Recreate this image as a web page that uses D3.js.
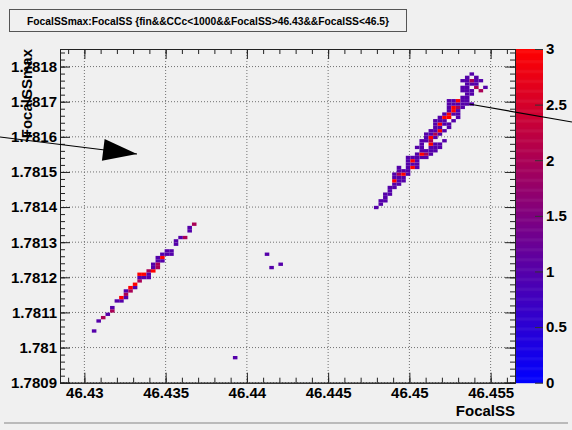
<!DOCTYPE html>
<html>
<head>
<meta charset="utf-8">
<script src="https://cdn.jsdelivr.net/npm/d3@7/dist/d3.min.js"></script>
<style>
  html, body { margin: 0; padding: 0; background: #f0f0f0; }
  svg { display: block; }
  text { font-family: "Liberation Sans", Arial, Helvetica, sans-serif; font-weight: bold; fill: #000; }
</style>
</head>
<body>
<script>
// Histogram binning of FocalSSmax vs FocalSS
const xLimits = [46.4285, 46.4565];
const yLimits = [1.7809, 1.78185];
const nBinsX = 100;
const nBinsY = 100;

// Axis tick labels
const xTicks = [46.43, 46.435, 46.44, 46.445, 46.45, 46.455];
const yTicks = [1.7809, 1.781, 1.7811, 1.7812, 1.7813, 1.7814, 1.7815, 1.7816, 1.7817, 1.7818];
const zTicks = [0, 0.5, 1, 1.5, 2, 2.5, 3];
const zRange = [0, 3];

// Filled bins: [x bin, y bin, entries]
const cellsLower = [
  [7,15,1], [8,18,1], [9,19,2], [10,20,1], [11,21,2], [11,22,1],
  [12,24,1], [13,24,1], [13,25,3], [14,25,1], [14,26,2], [14,27,1],
  [15,27,2], [15,28,3], [16,28,1], [16,29,3], [17,30,2], [17,31,1],
  [18,31,1], [18,32,3], [17,32,3], [19,31,1], [19,33,2], [19,32,1],
  [20,33,3], [20,34,1], [20,35,1], [21,34,2], [21,36,1], [21,35,2],
  [22,37,3], [22,36,1], [21,37,1], [22,38,1], [23,38,1], [23,39,1],
  [24,39,1], [24,38,1], [25,41,1], [25,42,1], [26,43,1], [27,43,2],
  [28,45,1], [28,46,1], [29,47,2]
];
const cellsIsolated = [
  [45,38,1], [46,34,1], [48,35,1], [38,7,1]
];
const cellsUpper = [
  [69,52,1], [70,53,1], [70,54,1], [71,54,1], [71,55,1], [71,56,1], [72,56,1],
  [72,57,1], [72,58,1], [73,58,1], [73,59,1], [74,59,1],
  [73,60,3], [74,60,1], [75,60,1], [73,61,1], [74,61,1], [75,61,1],
  [73,62,1], [74,62,2], [75,62,3], [76,62,1], [74,63,1], [75,63,1], [76,63,1],
  [74,64,1], [76,64,1], [77,64,3], [78,64,1], [76,65,1], [77,65,1], [78,65,1],
  [76,66,1], [77,66,3], [78,66,1],
  [76,67,1], [77,67,1], [78,67,1], [79,67,1], [80,67,1],
  [78,68,1], [79,68,3], [80,68,2], [81,68,1],
  [79,69,1], [80,69,1], [81,69,1], [82,69,1],
  [78,70,1], [79,70,1], [81,70,1], [82,70,1], [83,70,1],
  [79,71,1], [81,71,3], [82,71,1], [83,71,1],
  [79,72,1], [80,72,1], [81,72,2], [84,72,1],
  [80,73,1], [81,73,3], [82,73,1],
  [80,74,1], [81,74,1], [82,74,2], [83,74,1],
  [81,75,1], [82,75,1], [83,75,3], [84,75,1],
  [82,76,1], [83,76,1], [85,76,1],
  [82,77,1], [83,77,3], [84,77,1], [85,77,1],
  [82,78,1], [83,78,1], [84,78,1], [86,78,1],
  [83,79,1], [84,79,3], [85,79,3], [87,79,1],
  [84,80,1], [85,80,3], [86,80,1], [87,80,1],
  [85,81,1], [86,81,3], [87,81,1],
  [85,82,1], [86,82,3], [87,82,2], [88,82,1],
  [85,83,1], [86,83,1], [87,83,1], [88,83,1], [89,83,1], [90,83,1],
  [85,84,1], [86,84,1], [87,84,3], [88,84,1], [89,84,1],
  [88,85,1], [89,85,1], [89,86,1], [90,86,1],
  [88,87,1], [89,87,1], [90,87,1], [92,87,2],
  [88,88,1], [89,88,1], [91,88,2], [93,88,1],
  [89,89,1], [90,89,1], [91,89,1],
  [88,90,1], [89,90,1], [90,90,2], [91,90,1], [92,90,1],
  [89,91,1], [91,91,1], [90,92,1]
];

const W = 572, H = 430;
const frame = { left: 60, right: 515, top: 49, bottom: 382.7 };
const bar = { left: 516, right: 543 };

const svg = d3.select("body").append("svg").attr("width", W).attr("height", H);

// canvas background and lower border
svg.append("rect").attr("width", W).attr("height", H).attr("fill", "#f0f0f0");
svg.append("line").attr("x1", 4).attr("x2", 568).attr("y1", 423).attr("y2", 423)
  .attr("stroke", "#a8a8a8").attr("stroke-width", 1.5);

const x = d3.scaleLinear().domain(xLimits).range([frame.left, frame.right]);
const y = d3.scaleLinear().domain(yLimits).range([frame.bottom, frame.top]);
const z = d3.scaleLinear().domain(zRange).range(["#0000ff", "#ff0000"]).interpolate(d3.interpolateRgb);

const xStep = (xLimits[1] - xLimits[0]) / nBinsX;
const yStep = (yLimits[1] - yLimits[0]) / nBinsY;

// grid
const grid = svg.append("g").attr("stroke", "#707070").attr("stroke-width", 1).attr("stroke-dasharray", "1,2");
grid.selectAll("line.gx").data(xTicks).join("line").attr("class", "gx")
  .attr("x1", d => x(d)).attr("x2", d => x(d)).attr("y1", frame.top).attr("y2", frame.bottom);
grid.selectAll("line.gy").data(yTicks).join("line").attr("class", "gy")
  .attr("x1", frame.left).attr("x2", frame.right).attr("y1", d => y(d)).attr("y2", d => y(d));

// bins
const cells = cellsLower.concat(cellsIsolated, cellsUpper);
svg.append("g").selectAll("rect").data(cells).join("rect")
  .attr("x", d => x(xLimits[0] + d[0] * xStep))
  .attr("y", d => y(yLimits[0] + (d[1] + 1) * yStep))
  .attr("width", d => x(xLimits[0] + (d[0] + 1) * xStep) - x(xLimits[0] + d[0] * xStep))
  .attr("height", d => y(yLimits[0] + d[1] * yStep) - y(yLimits[0] + (d[1] + 1) * yStep))
  .attr("fill", d => z(d[2]));

// axes: major and minor ticks on all four sides
const xMinor = d3.range(46.429, 46.4565, 0.001);
const yMinor = d3.range(1.78092, 1.78185, 0.00002);

function styleAxis(g) {
  g.select(".domain").attr("stroke", "#222");
  g.selectAll(".tick line").attr("stroke", "#222");
  g.selectAll("text").attr("font-size", 15).attr("font-family", null).attr("fill", "#000");
}

svg.append("g").attr("transform", `translate(0,${frame.bottom})`)
  .call(d3.axisBottom(x).tickValues(xMinor).tickSize(-5).tickFormat(""))
  .call(styleAxis);
svg.append("g").attr("transform", `translate(0,${frame.bottom})`)
  .call(d3.axisBottom(x).tickValues(xTicks).tickSize(-10).tickPadding(5).tickFormat(d3.format("")))
  .call(styleAxis);
svg.append("g").attr("transform", `translate(0,${frame.top})`)
  .call(d3.axisTop(x).tickValues(xMinor).tickSize(-5).tickFormat(""))
  .call(styleAxis);
svg.append("g").attr("transform", `translate(0,${frame.top})`)
  .call(d3.axisTop(x).tickValues(xTicks).tickSize(-10).tickFormat(""))
  .call(styleAxis);

svg.append("g").attr("transform", `translate(${frame.left},0)`)
  .call(d3.axisLeft(y).tickValues(yMinor).tickSize(-5).tickFormat(""))
  .call(styleAxis);
svg.append("g").attr("transform", `translate(${frame.left},0)`)
  .call(d3.axisLeft(y).tickValues(yTicks).tickSize(-10).tickPadding(3).tickFormat(d3.format("")))
  .call(styleAxis);
svg.append("g").attr("transform", `translate(${frame.right},0)`)
  .call(d3.axisRight(y).tickValues(yMinor).tickSize(-5).tickFormat(""))
  .call(styleAxis);
svg.append("g").attr("transform", `translate(${frame.right},0)`)
  .call(d3.axisRight(y).tickValues(yTicks).tickSize(-10).tickFormat(""))
  .call(styleAxis);

// colour palette bar
const zy = d3.scaleLinear().domain(zRange).range([frame.bottom, frame.top]);
const steps = d3.range(0, 300).map(i => zRange[0] + (i + 0.5) * (zRange[1] - zRange[0]) / 300);
const dz = (zRange[1] - zRange[0]) / 300;
svg.append("g").selectAll("rect").data(steps).join("rect")
  .attr("x", bar.left).attr("width", bar.right - bar.left)
  .attr("y", d => zy(d + dz / 2)).attr("height", d => zy(d - dz / 2) - zy(d + dz / 2) + 0.5)
  .attr("fill", d => z(d));
const zAxis = svg.append("g").attr("transform", `translate(${bar.right},0)`)
  .call(d3.axisRight(zy).tickValues(zTicks).tickSize(-8).tickPadding(3).tickFormat(d3.format("")))
  .call(styleAxis);
zAxis.select(".domain").remove();
zAxis.selectAll(".tick line").attr("stroke", "#333").attr("stroke-width", 1);

// axis titles
svg.append("text").attr("x", frame.right).attr("y", 416).attr("text-anchor", "end")
  .attr("font-size", 15).text("FocalSS");
svg.append("text").attr("transform", `translate(32,${frame.top}) rotate(-90)`)
  .attr("text-anchor", "end").attr("font-size", 15).text("FocalSSmax");

// title box
svg.append("rect").attr("x", 9.5).attr("y", 9.5).attr("width", 397).attr("height", 22)
  .attr("fill", "#f0f0f0").attr("stroke", "#555").attr("stroke-width", 1);
svg.append("text").attr("x", 208).attr("y", 24.5).attr("text-anchor", "middle")
  .attr("font-size", 10.3).text("FocalSSmax:FocalSS {fin&&CCc<1000&&FocalSS>46.43&&FocalSS<46.5}");

// arrows
function arrow(x1, y1, x2, y2, head) {
  svg.append("line").attr("x1", x1).attr("y1", y1).attr("x2", x2).attr("y2", y2)
    .attr("stroke", "#000").attr("stroke-width", 1.2);
  if (head) {
    const len = Math.hypot(x2 - x1, y2 - y1);
    const ux = (x2 - x1) / len, uy = (y2 - y1) / len;
    const L = 34, hw = 11;
    const bx = x2 - L * ux, by = y2 - L * uy;
    const pts = [[x2, y2], [bx - hw * uy, by + hw * ux], [bx + hw * uy, by - hw * ux]];
    svg.append("polygon").attr("points", pts.map(p => p.join(",")).join(" ")).attr("fill", "#000");
  }
}
arrow(0, 137, 137, 154, true);
arrow(469, 104, 572, 122, false);
</script>
</body>
</html>
